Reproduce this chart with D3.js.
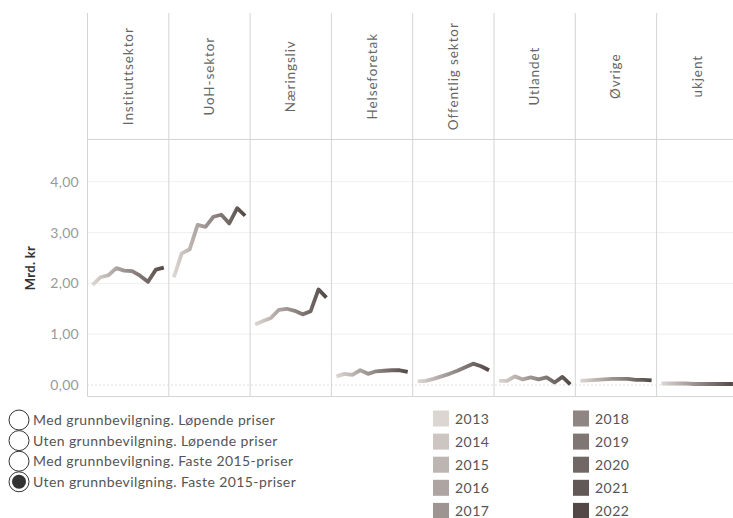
<!DOCTYPE html>
<html><head><meta charset="utf-8">
<script src="https://cdn.jsdelivr.net/npm/d3@7"></script>
<style>
body{margin:0;background:#fff;overflow:hidden}
svg{display:block;font-family:Lato,"Noto Sans",sans-serif}
</style></head><body>
<svg id="c" width="733" height="518"></svg>
<script>
const years = [2013,2014,2015,2016,2017,2018,2019,2020,2021,2022];
const sectors = ["Instituttsektor","UoH-sektor","Næringsliv","Helseforetak","Offentlig sektor","Utlandet","Øvrige","ukjent"];
const instituttsektor = [1.97,2.12,2.16,2.30,2.25,2.24,2.15,2.03,2.27,2.31];
const uohSektor      = [2.12,2.59,2.67,3.15,3.11,3.31,3.35,3.18,3.48,3.33];
const naeringsliv    = [1.19,1.26,1.32,1.48,1.50,1.46,1.39,1.45,1.88,1.72];
const helseforetak   = [0.17,0.22,0.20,0.29,0.22,0.27,0.28,0.29,0.29,0.26];
const offentlig      = [0.07,0.08,0.12,0.17,0.22,0.28,0.35,0.42,0.37,0.29];
const utlandet       = [0.08,0.08,0.17,0.11,0.15,0.11,0.15,0.05,0.16,0.01];
const ovrige         = [0.08,0.09,0.10,0.11,0.12,0.12,0.12,0.10,0.10,0.09];
const ukjent         = [0.03,0.03,0.03,0.03,0.02,0.02,0.02,0.02,0.02,0.02];
const seriesValues = [instituttsektor,uohSektor,naeringsliv,helseforetak,offentlig,utlandet,ovrige,ukjent];
const yTicks = [0,1,2,3,4];
const yTickLabels = ["0,00","1,00","2,00","3,00","4,00"];
const yearColors = ["#dcd6d3","#cdc5c2","#bdb5b2","#aea5a2","#9e9592","#8f8683","#807775","#716866","#625856","#534846"];
const radioLabels = ["Med grunnbevilgning. Løpende priser","Uten grunnbevilgning. Løpende priser","Med grunnbevilgning. Faste 2015-priser","Uten grunnbevilgning. Faste 2015-priser"];
const selectedRadio = 3;

const svg = d3.select("#c");
const left = 87.5, panelW = 81.3, headTop = 13, headBot = 139.5, plotBot = 396.5;
const xBand = d3.scaleBand().domain(sectors).range([left, left + panelW*sectors.length]).padding(0);
const y = d3.scaleLinear().domain([0,4]).range([385,181.7]);
const color = d3.scaleOrdinal().domain(years).range(yearColors);
const right = left + panelW*sectors.length;

// gridlines
svg.append("g").selectAll("line").data(yTicks.filter(d=>d>0)).join("line")
  .attr("x1",left).attr("x2",right).attr("y1",d=>y(d)).attr("y2",d=>y(d))
  .attr("stroke","#efefef").attr("stroke-width",1);
svg.append("line").attr("x1",left).attr("x2",right).attr("y1",y(0)).attr("y2",y(0))
  .attr("stroke","#bbb").attr("stroke-width",1).attr("stroke-dasharray","1,3");

// frame lines
const bounds = sectors.map(s=>xBand(s)).concat([right]);
svg.append("g").selectAll("line").data(bounds).join("line")
  .attr("x1",d=>d).attr("x2",d=>d).attr("y1",headTop).attr("y2",plotBot)
  .attr("stroke","#d4d4d4").attr("stroke-width",1);
svg.append("line").attr("x1",left).attr("x2",right).attr("y1",headBot).attr("y2",headBot).attr("stroke","#d4d4d4");
svg.append("line").attr("x1",left).attr("x2",right).attr("y1",plotBot).attr("y2",plotBot).attr("stroke","#d4d4d4");

// headers
svg.append("g").selectAll("text").data(sectors).join("text")
  .attr("transform",d=>`translate(${xBand(d)+panelW/2+4.5},${(headTop+headBot)/2}) rotate(-90)`)
  .attr("text-anchor","middle").attr("font-size",13.5).attr("fill","#666").attr("letter-spacing","0.9")
  .text(d=>d);

// y axis labels
svg.append("g").selectAll("text").data(yTicks).join("text")
  .attr("x",79).attr("y",d=>y(d)+5).attr("text-anchor","end")
  .attr("font-size",14).attr("fill","#999").attr("letter-spacing","0.3").text((d,i)=>yTickLabels[i]);
svg.append("text").attr("transform","translate(35,268) rotate(-90)").attr("text-anchor","middle")
  .attr("font-size",13).attr("font-weight","bold").attr("fill","#333").attr("letter-spacing","0.3").text("Mrd. kr");

// lines with gradient per panel
const defs = svg.append("defs");
sectors.forEach((s,k)=>{
  const x = d3.scalePoint().domain(years).range([xBand(s)+5, xBand(s)+panelW-5]);
  const g = defs.append("linearGradient").attr("id","g"+k).attr("gradientUnits","userSpaceOnUse")
    .attr("x1",x(years[0])).attr("x2",x(years[years.length-1])).attr("y1",0).attr("y2",0);
  years.forEach((yr,i)=>g.append("stop").attr("offset",i/(years.length-1)).attr("stop-color",color(yr)));
  const data = years.map((yr,i)=>({yr, v: seriesValues[k][i]}));
  svg.append("path").datum(data)
    .attr("d",d3.line().x(d=>x(d.yr)).y(d=>y(d.v)))
    .attr("fill","none").attr("stroke",`url(#g${k})`).attr("stroke-width",3.8)
    .attr("stroke-linejoin","round").attr("stroke-linecap","butt");
});

// radio legend
const rg = svg.append("g");
radioLabels.forEach((t,i)=>{
  const cy = 420 + i*20.6;
  rg.append("circle").attr("cx",19).attr("cy",cy).attr("r",10).attr("fill","#fff").attr("stroke","#333").attr("stroke-width",1);
  if(i===selectedRadio) rg.append("circle").attr("cx",19).attr("cy",cy).attr("r",7).attr("fill","#333");
  rg.append("text").attr("x",33).attr("y",cy+5).attr("font-size",14).attr("fill","#555").attr("letter-spacing","0.4").text(t);
});

// year legend
const lg = svg.append("g");
years.forEach((yr,i)=>{
  const col = Math.floor(i/5), row = i%5;
  const sx = 433 + col*140, cy = 418.5 + row*23.1;
  lg.append("rect").attr("x",sx).attr("y",cy-8).attr("width",16).attr("height",16).attr("fill",color(yr));
  lg.append("text").attr("x",sx+22).attr("y",cy+5).attr("font-size",14).attr("fill","#555").attr("letter-spacing","0.5").text(yr);
});
</script>
</body></html>
